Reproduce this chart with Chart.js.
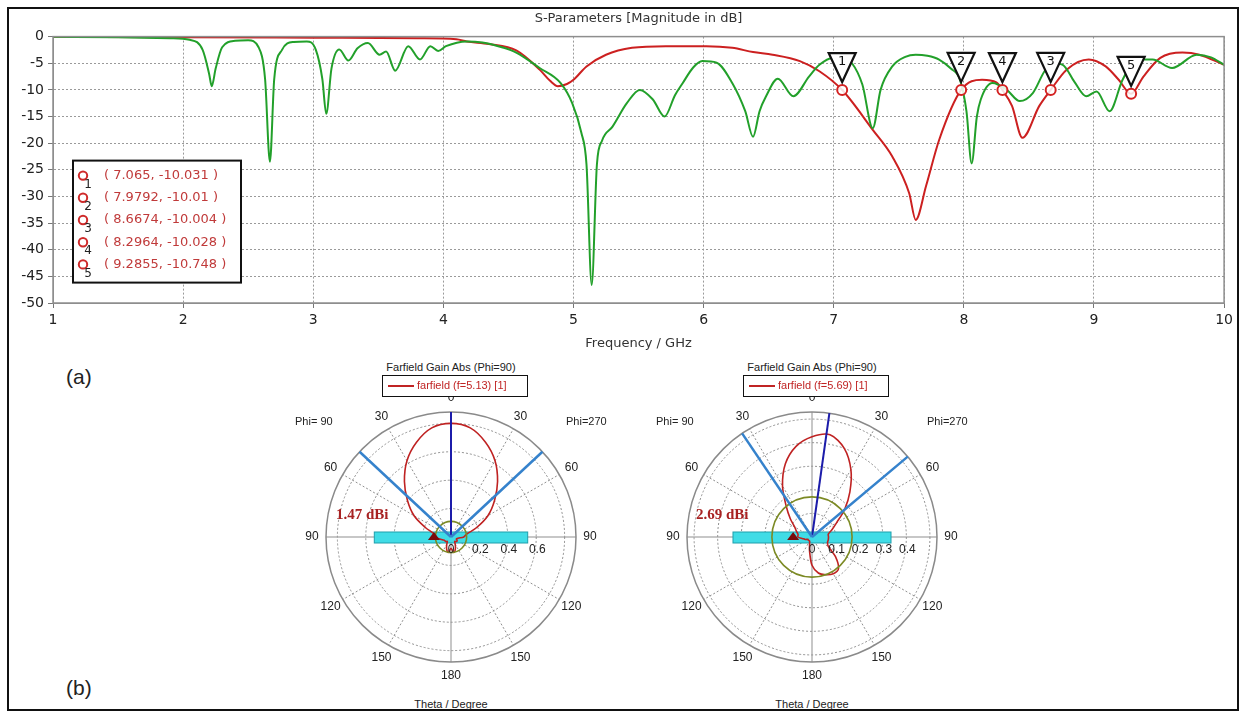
<!DOCTYPE html>
<html>
<head>
<meta charset="utf-8">
<script src="https://cdn.jsdelivr.net/npm/chart.js@4.4.1/dist/chart.umd.min.js"></script>
<style>
  html, body { margin: 0; padding: 0; background: #fff; }
  #page { position: relative; width: 1245px; height: 715px; overflow: hidden; font-family: "Liberation Sans", Arial, sans-serif; color: #222; }
  #frame { position: absolute; left: 7px; top: 7px; width: 1232px; height: 704px; box-sizing: border-box; border: 2px solid #111; }
  canvas { position: absolute; }
  .txt { position: absolute; white-space: nowrap; }
  .panel { font-size: 21px; }
  .ptitle { font-size: 11px; width: 200px; text-align: center; }
  .plegend { position: absolute; width: 146px; height: 22px; box-sizing: border-box; border: 1.5px solid #111; background: #fff; }
  .plegend .ln { position: absolute; left: 5px; top: 9px; width: 26px; height: 2px; background: #c02424; }
  .plegend .lt { position: absolute; left: 34px; top: 3px; font-size: 11px; color: #c02424; }
  .phi { font-size: 11px; }
  .dbi { font-family: "Liberation Serif", serif; font-weight: bold; font-size: 15px; color: #a82222; }
</style>
</head>
<body>
<div id="page">
  <div id="frame"></div>
  <canvas id="sparams" width="1228" height="350" style="left:9px; top:9px;"></canvas>

  <div class="txt panel" style="left:66px; top:365px;">(a)</div>
  <div class="txt panel" style="left:66px; top:676px;">(b)</div>

  <canvas id="polarLeft" width="330" height="300" style="left:286px; top:392px;"></canvas>
  <canvas id="polarRight" width="330" height="300" style="left:647px; top:392px;"></canvas>

  <div class="txt ptitle" style="left:351px; top:361px;">Farfield Gain Abs (Phi=90)</div>
  <div class="plegend" style="left:382px; top:375px;"><div class="ln"></div><div class="lt">farfield (f=5.13) [1]</div></div>
  <div class="txt phi" style="left:295px; top:415px;">Phi= 90</div>
  <div class="txt phi" style="left:566px; top:415px;">Phi=270</div>
  <div class="txt dbi" style="left:336px; top:506px;">1.47 dBi</div>
  <div class="txt ptitle" style="left:351px; top:698px;">Theta / Degree</div>

  <div class="txt ptitle" style="left:712px; top:361px;">Farfield Gain Abs (Phi=90)</div>
  <div class="plegend" style="left:743px; top:375px;"><div class="ln"></div><div class="lt">farfield (f=5.69) [1]</div></div>
  <div class="txt phi" style="left:656px; top:415px;">Phi= 90</div>
  <div class="txt phi" style="left:927px; top:415px;">Phi=270</div>
  <div class="txt dbi" style="left:696px; top:506px;">2.69 dBi</div>
  <div class="txt ptitle" style="left:712px; top:698px;">Theta / Degree</div>
</div>

<script>
// S-parameter curves (GHz, dB)
const greenFreq = [1.0, 1.5, 1.9, 2.05, 2.15, 2.2, 2.22, 2.25, 2.3, 2.4, 2.5, 2.58, 2.63, 2.667, 2.7, 2.76, 2.85, 2.95,
  3.02, 3.07, 3.1, 3.14, 3.2, 3.27, 3.34, 3.42, 3.51, 3.56, 3.63, 3.73, 3.82, 3.9, 3.96, 4.02, 4.18, 4.3, 4.45, 4.56,
  4.74, 4.9, 4.99, 5.06, 5.1, 5.14, 5.18, 5.22, 5.3, 5.41, 5.51, 5.61, 5.7, 5.78, 5.84, 5.92, 5.99, 6.1, 6.22, 6.32,
  6.38, 6.43, 6.48, 6.57, 6.69, 6.81, 6.89, 6.99, 7.08, 7.14, 7.22, 7.3, 7.36, 7.45, 7.55, 7.63, 7.72, 7.81, 7.9, 7.97,
  8.02, 8.06, 8.1, 8.13, 8.22, 8.33, 8.43, 8.53, 8.62, 8.68, 8.76, 8.85, 8.94, 9.02, 9.12, 9.22, 9.33, 9.45, 9.6, 9.79,
  9.9, 10.0];
const greenDb = [-0.05, -0.1, -0.3, -0.6, -2.5, -7, -9.3, -6, -2, -0.8, -0.7, -2, -8, -23.5, -8, -2.5, -1.0, -0.9,
  -2.5, -8, -14.5, -6, -2.4, -4.5, -2.2, -1.2, -3.4, -2.8, -6.4, -1.8, -4.3, -1.8, -2.7, -1.8, -0.9, -1.1, -2.0, -3.0,
  -5.9, -8.7, -12.5, -18, -24, -46.6, -24, -19.5, -16.9, -12.5, -10, -11.8, -15, -11, -8.7, -5.8, -4.6, -4.9, -8.7, -14,
  -18.8, -14, -11.2, -7.9, -11.2, -7.5, -5.3, -4, -4.2, -5, -9, -17.2, -10, -5.6, -3.8, -3.4, -3.6, -4.3, -6, -8.1,
  -14, -23.8, -15, -11.8, -8.7, -10, -12.1, -10.6, -6.5, -5, -5.3, -8.5, -11.2, -10.3, -14, -8.1, -4.3, -4.3, -5.9, -3.4,
  -3.9, -5.3];

const redFreq = [1.0, 2.0, 3.0, 3.8, 4.1, 4.18, 4.35, 4.56, 4.74, 4.82, 4.88, 4.95, 5.0, 5.1, 5.25, 5.45, 5.71, 6.02,
  6.22, 6.38, 6.53, 6.74, 6.89, 7.065, 7.3, 7.45, 7.58, 7.63, 7.71, 7.81, 7.9792, 8.14, 8.25, 8.2964, 8.37, 8.45, 8.58,
  8.6674, 8.79, 8.96, 9.09, 9.19, 9.2855, 9.38, 9.51, 9.68, 9.81, 10.0];
const redDb = [-0.05, -0.1, -0.2, -0.3, -0.5, -0.9, -1.4, -2.6, -6.2, -8.3, -9.3, -8.9, -8.1, -5.6, -3.4, -2.1, -1.8, -1.8,
  -2.1, -2.9, -3.4, -4.6, -6.5, -10.031, -17.5, -22.5, -29.4, -34.4, -28, -19.4, -10.01, -8.1, -8.6, -10.028, -13, -19, -13,
  -10.004, -6.2, -4.3, -5.6, -8.1, -10.748, -7.5, -4, -3, -3.4, -5.3];

// markers 1..5 on the red curve
const markerNames = ['1', '2', '3', '4', '5'];
const markerFreq = [7.065, 7.9792, 8.6674, 8.2964, 9.2855];
const markerDb = [-10.031, -10.01, -10.004, -10.028, -10.748];

// farfield cuts, theta clockwise from top (right half = Phi 270 side)
const thetaDeg = [0, 10, 20, 30, 40, 50, 60, 70, 80, 90, 100, 110, 120, 130, 140, 150, 160, 170,
  180, 190, 200, 210, 220, 230, 240, 250, 260, 270, 280, 290, 300, 310, 320, 330, 340, 350];
const gain513 = [0.80, 0.78, 0.71, 0.62, 0.51, 0.40, 0.30, 0.19, 0.11, 0.09, 0.05, 0.04, 0.05, 0.05, 0.04, 0.06, 0.09, 0.11,
  0.08, 0.11, 0.09, 0.06, 0.04, 0.05, 0.05, 0.06, 0.08, 0.12, 0.12, 0.19, 0.30, 0.40, 0.51, 0.62, 0.71, 0.78];
const gain569 = [0.425, 0.44, 0.40, 0.33, 0.25, 0.18, 0.12, 0.09, 0.07, 0.07, 0.07, 0.07, 0.08, 0.13, 0.175, 0.18, 0.17, 0.155,
  0.12, 0.06, 0.03, 0.02, 0.02, 0.02, 0.02, 0.03, 0.04, 0.06, 0.06, 0.07, 0.085, 0.12, 0.17, 0.25, 0.33, 0.39];

const leftTickLabels = [0, 0.2, 0.4, 0.6];
const rightTickLabels = [0, 0.1, 0.2, 0.3, 0.4];
const leftBeamDeg = [0, -47, 47];     // main direction, then beam edges
const rightBeamDeg = [8, -34, 50];
const leftRingGain = 0.11, rightRingGain = 0.17;
const leftBarHalf = 0.54, rightBarHalf = 0.335;
const leftPeakMark = 0.12, rightPeakMark = 0.08;

Chart.defaults.font.family = '"DejaVu Sans", sans-serif';
Chart.defaults.color = '#222';

const toPoints = (xs, ys) => xs.map((x, i) => ({ x: x, y: ys[i] }));

const plotFrame = {
  id: 'plotFrame',
  afterDatasetsDraw(chart) {
    const a = chart.chartArea, ctx = chart.ctx;
    ctx.save();
    ctx.strokeStyle = '#8e8e8e';
    ctx.lineWidth = 1.5;
    ctx.strokeRect(a.left, a.top, a.right - a.left, a.bottom - a.top);
    ctx.restore();
  }
};

const markerTags = {
  id: 'markerTags',
  afterDraw(chart) {
    const xs = chart.scales.x, ys = chart.scales.y, ctx = chart.ctx;
    ctx.save();
    markerFreq.forEach((f, i) => {
      const px = xs.getPixelForValue(f), py = ys.getPixelForValue(markerDb[i]);
      const tip = py - 8, top = tip - 29;
      ctx.beginPath();
      ctx.moveTo(px - 13.5, top);
      ctx.lineTo(px + 13.5, top);
      ctx.lineTo(px, tip);
      ctx.closePath();
      ctx.fillStyle = '#fff';
      ctx.fill();
      ctx.strokeStyle = '#111';
      ctx.lineWidth = 2.2;
      ctx.stroke();
      ctx.fillStyle = '#111';
      ctx.font = '13px "DejaVu Sans"';
      ctx.textAlign = 'center';
      ctx.textBaseline = 'middle';
      ctx.fillText(markerNames[i], px, top + 9);
    });

    // readout box
    const a = chart.chartArea;
    const bx = a.left + 20, by = a.top + 124, bw = 168, bh = 122;
    ctx.fillStyle = '#fff';
    ctx.fillRect(bx, by, bw, bh);
    ctx.strokeStyle = '#111';
    ctx.lineWidth = 2;
    ctx.strokeRect(bx, by, bw, bh);
    markerFreq.forEach((f, i) => {
      const ry = by + 15 + i * 22.2;
      ctx.beginPath();
      ctx.arc(bx + 10, ry, 4.2, 0, Math.PI * 2);
      ctx.fillStyle = '#fff';
      ctx.fill();
      ctx.strokeStyle = '#cf2a2a';
      ctx.lineWidth = 2;
      ctx.stroke();
      ctx.fillStyle = '#222';
      ctx.font = '12px "DejaVu Sans"';
      ctx.textAlign = 'center';
      ctx.textBaseline = 'middle';
      ctx.fillText(markerNames[i], bx + 15, ry + 9);
      ctx.fillStyle = '#c03a3a';
      ctx.font = '13px "DejaVu Sans"';
      ctx.textAlign = 'left';
      ctx.fillText('( ' + f + ', ' + markerDb[i] + ' )', bx + 31, ry);
    });
    ctx.restore();
  }
};

new Chart(document.getElementById('sparams'), {
  type: 'scatter',
  data: {
    datasets: [
      {
        label: 'markers',
        data: toPoints(markerFreq, markerDb),
        showLine: false,
        pointRadius: 5,
        pointBorderWidth: 2,
        pointBorderColor: '#d42222',
        pointBackgroundColor: 'rgba(255,255,255,0.85)'
      },
      {
        label: 'green',
        data: toPoints(greenFreq, greenDb),
        showLine: true,
        borderColor: '#22a02a',
        borderWidth: 2,
        pointRadius: 0,
        cubicInterpolationMode: 'monotone'
      },
      {
        label: 'red',
        data: toPoints(redFreq, redDb),
        showLine: true,
        borderColor: '#cc2020',
        borderWidth: 2,
        pointRadius: 0,
        cubicInterpolationMode: 'monotone'
      }
    ]
  },
  options: {
    responsive: false,
    animation: false,
    events: [],
    layout: { padding: { left: 0, right: 12, top: 0, bottom: 0 } },
    plugins: {
      legend: { display: false },
      tooltip: { enabled: false },
      title: {
        display: true,
        fullSize: false,
        text: 'S-Parameters [Magnitude in dB]',
        color: '#333',
        font: { size: 13, weight: 'normal' },
        padding: { top: 2, bottom: 10 }
      }
    },
    scales: {
      x: {
        type: 'linear',
        min: 1,
        max: 10,
        ticks: { stepSize: 1, padding: 4, font: { size: 14 }, color: '#222' },
        grid: { color: '#9a9a9a', tickLength: 5, tickColor: '#777' },
        border: { color: '#8e8e8e', dash: [2, 2] },
        title: { display: true, text: 'Frequency / GHz', font: { size: 13 }, color: '#333', padding: { top: 0, bottom: 8 } },
        afterFit(scale) { scale.height = 56; }
      },
      y: {
        min: -50,
        max: 0,
        ticks: { stepSize: 5, padding: 4, font: { size: 14 }, color: '#222' },
        grid: { color: '#9a9a9a', tickLength: 5, tickColor: '#777' },
        border: { color: '#8e8e8e', dash: [2, 2] },
        afterFit(scale) { scale.width = 44; }
      }
    }
  },
  plugins: [plotFrame, markerTags]
});

const polarDecor = {
  id: 'polarDecor',
  beforeDatasetsDraw(chart, args, o) {
    const s = chart.scales.r, ctx = chart.ctx;
    const cx = s.xCenter, cy = s.yCenter;
    const R = s.getDistanceFromCenterForValue(s.max);
    ctx.save();
    ctx.setLineDash([]);
    ctx.strokeStyle = '#8a8a8a';
    ctx.lineWidth = 1.5;
    ctx.beginPath();
    ctx.arc(cx, cy, R, 0, Math.PI * 2);
    ctx.stroke();
    // antenna outline bar
    const half = s.getDistanceFromCenterForValue(o.barHalf);
    ctx.fillStyle = '#40dce6';
    ctx.fillRect(cx - half, cy - 5, 2 * half, 11);
    ctx.strokeStyle = '#1f9fac';
    ctx.lineWidth = 1;
    ctx.strokeRect(cx - half, cy - 5, 2 * half, 11);
    ctx.restore();
  },
  afterDatasetsDraw(chart, args, o) {
    const s = chart.scales.r, ctx = chart.ctx;
    const cx = s.xCenter, cy = s.yCenter;
    const R = s.getDistanceFromCenterForValue(s.max);
    ctx.save();
    ctx.setLineDash([]);
    // olive reference ring
    ctx.strokeStyle = '#7c8a24';
    ctx.lineWidth = 1.6;
    ctx.beginPath();
    ctx.arc(cx, cy, s.getDistanceFromCenterForValue(o.ring), 0, Math.PI * 2);
    ctx.stroke();
    // beam direction and beam edges
    o.beams.forEach((deg, k) => {
      const p = s.getPointPosition(0, R, deg * Math.PI / 180);
      ctx.strokeStyle = k === 0 ? '#1c1caa' : '#3582cc';
      ctx.lineWidth = k === 0 ? 2 : 2.5;
      ctx.beginPath();
      ctx.moveTo(cx, cy);
      ctx.lineTo(p.x, p.y);
      ctx.stroke();
    });
    // small triangle marker on the Phi=90 side
    const m = s.getPointPosition(0, s.getDistanceFromCenterForValue(o.mark), -Math.PI / 2);
    ctx.fillStyle = '#7a0c0c';
    ctx.beginPath();
    ctx.moveTo(m.x, m.y - 5);
    ctx.lineTo(m.x - 6, m.y + 3);
    ctx.lineTo(m.x + 6, m.y + 3);
    ctx.closePath();
    ctx.fill();
    // theta labels
    ctx.fillStyle = '#222';
    ctx.font = '12px "Liberation Sans"';
    ctx.textAlign = 'center';
    ctx.textBaseline = 'middle';
    thetaDeg.forEach((t, i) => {
      if (t % 30 !== 0) return;
      const p = s.getPointPosition(i, R + 14);
      ctx.fillText(String(t <= 180 ? t : 360 - t), p.x, p.y);
    });
    // radial value labels
    o.ticks.forEach(v => {
      ctx.fillText(String(v), cx + s.getDistanceFromCenterForValue(v) + (v ? 1 : 0), cy + 13);
    });
    ctx.restore();
  }
};

function polarChart(id, gain, rMax, step, extras) {
  return new Chart(document.getElementById(id), {
    type: 'radar',
    data: {
      labels: thetaDeg,
      datasets: [{
        data: gain,
        borderColor: '#bf2222',
        borderWidth: 1.6,
        fill: false,
        pointRadius: 0,
        tension: 0.3
      }]
    },
    options: {
      responsive: false,
      animation: false,
      events: [],
      layout: { padding: { left: 40, right: 40, top: 20, bottom: 30 } },
      plugins: { legend: { display: false }, tooltip: { enabled: false }, polarDecor: extras },
      scales: {
        r: {
          min: 0,
          max: rMax,
          ticks: { display: false, stepSize: step, includeBounds: false },
          pointLabels: { display: false },
          grid: { circular: true, color: '#8f8f8f', lineWidth: 1 },
          border: { dash: [2, 2] },
          angleLines: {
            color: '#8f8f8f',
            lineWidth: c => (thetaDeg[c.index] % 30 === 0 ? 1 : 0),
            borderDash: c => (thetaDeg[c.index] % 90 === 0 ? [] : [2, 2])
          }
        }
      }
    },
    plugins: [polarDecor]
  });
}

polarChart('polarLeft', gain513, 0.88, 0.2, {
  beams: leftBeamDeg, ring: leftRingGain, barHalf: leftBarHalf, mark: leftPeakMark, ticks: leftTickLabels
});
polarChart('polarRight', gain569, 0.53, 0.1, {
  beams: rightBeamDeg, ring: rightRingGain, barHalf: rightBarHalf, mark: rightPeakMark, ticks: rightTickLabels
});
</script>
</body>
</html>
